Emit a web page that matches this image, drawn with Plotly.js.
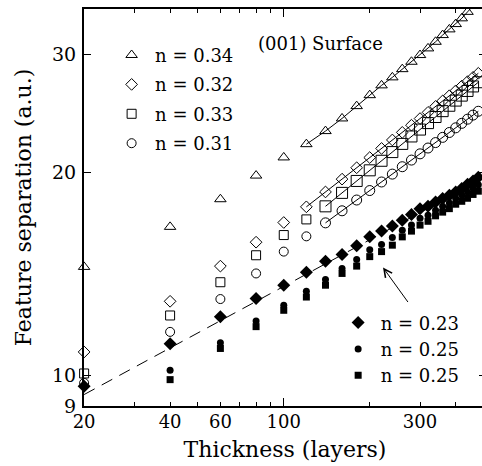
<!DOCTYPE html>
<html>
<head>
<meta charset="utf-8">
<script src="https://cdn.plot.ly/plotly-3.0.1.min.js"></script>
<style>
  html, body { margin: 0; padding: 0; overflow: hidden; background: #fff; }
  #chart { width: 490px; height: 466px; }
</style>
</head>
<body>
<div id="chart"></div>
<script>
// ---- data ----
const xSparse5 = [20, 40, 60, 80, 100];
const xSparse6 = [20, 40, 60, 80, 100, 120];

const triSparseY = [14.49, 16.62, 18.27, 19.81, 21.08];
const diaSparseY = [10.83, 12.88, 14.53, 15.77, 16.87];
const sqSparseY  = [10.06, 12.27, 13.75, 15.08, 16.16, 17.05];
const cirSparseY = [9.74, 11.60, 12.98, 14.17, 15.27, 16.09];

const triLineX = [120, 140, 160, 180, 200, 220, 240, 260, 280, 300, 320, 340, 360, 380, 400, 420, 440, 460];
const triLineY = [22.06, 23.07, 24.09, 25.13, 26.09, 26.98, 27.73, 28.52, 29.25, 29.93, 30.62, 31.32, 32.05, 32.68, 33.28, 33.94, 34.70, 35.40];

const diaLineX = [120, 140, 160, 180, 200, 220, 240, 260, 280, 300, 320, 340, 360, 380, 400, 420, 440, 460, 480];
const diaLineY = [17.80, 18.73, 19.57, 20.35, 21.07, 21.74, 22.38, 22.97, 23.54, 24.08, 24.60, 25.10, 25.58, 26.04, 26.48, 26.91, 27.33, 27.73, 28.12];

const sqLineX = [140, 160, 180, 200, 220, 240, 260, 280, 300, 320, 340, 360, 380, 400, 420, 440, 460, 480];
const sqLineY = [17.83, 18.67, 19.45, 20.17, 20.84, 21.47, 22.08, 22.65, 23.19, 23.71, 24.21, 24.70, 25.16, 25.61, 26.05, 26.47, 26.88, 27.27];

const cirLineX = [140, 160, 180, 200, 220, 240, 260, 280, 300, 320, 340, 360, 380, 400, 420, 440, 460, 480];
const cirLineY = [16.85, 17.56, 18.22, 18.82, 19.38, 19.91, 20.42, 20.89, 21.34, 21.77, 22.18, 22.58, 22.96, 23.33, 23.69, 24.03, 24.37, 24.69];

const fdX = [20, 40, 60, 80, 100, 120, 140, 160, 180, 200, 220, 240, 260, 280, 300, 320, 340, 360, 380, 400, 420, 440, 460, 480];
const fdY = [9.63, 11.14, 12.22, 13.00, 13.61, 14.23, 14.77, 15.12, 15.58, 16.06, 16.39, 16.67, 17.00, 17.34, 17.69, 17.84, 18.10, 18.31, 18.52, 18.73, 18.95, 19.23, 19.45, 19.70];

const fcX = [40, 60, 80, 100, 120, 140, 160, 180, 200, 220, 240, 260, 280, 300, 320, 340, 360, 380, 400, 420, 440, 460, 480];
const fcY = [10.17, 11.18, 12.04, 12.71, 13.33, 13.88, 14.41, 14.86, 15.37, 15.64, 16.03, 16.43, 16.72, 17.11, 17.30, 17.60, 17.84, 18.03, 18.31, 18.54, 18.73, 18.97, 19.19];

const fsX = [40, 60, 80, 100, 120, 140, 160, 180, 200, 220, 240, 260, 280, 300, 320, 340, 360, 380, 400, 420, 440, 460, 480];
const fsY = [9.85, 10.96, 11.81, 12.49, 13.07, 13.61, 14.17, 14.53, 15.01, 15.27, 15.61, 16.06, 16.38, 16.72, 16.94, 17.26, 17.48, 17.69, 17.96, 18.14, 18.33, 18.57, 18.78];

const fitX = [20, 500];
const fitY = [9.36, 19.63];

const xTickVals = [20, 30, 40, 50, 60, 70, 80, 90, 100, 200, 300, 400, 500];
const xTickText = ['20', '', '40', '', '60', '', '', '', '100', '', '300', '', ''];
const yTickVals = [9, 10, 20, 30];
const yTickText = ['9', '10', '20', '30'];

const legendNames = ['n = 0.34', 'n = 0.32', 'n = 0.33', 'n = 0.31', 'n = 0.23', 'n = 0.25', 'n = 0.25'];

// ---- styling ----
const FONT = 'DejaVu Serif';
const K = '#000';

function openMarker(sym, size) {
  return { symbol: sym, size: size, color: K, line: { color: K, width: 1 } };
}

const traces = [
  // dashed fit line
  { x: fitX, y: fitY, mode: 'lines', line: { color: K, width: 1, dash: '12px,8px' }, showlegend: false, hoverinfo: 'skip' },
  // lines with dense markers (no legend)
  { x: triLineX, y: triLineY, mode: 'lines+markers', line: { color: K, width: 1 }, marker: openMarker('triangle-up-open', 10), showlegend: false },
  { x: diaLineX, y: diaLineY, mode: 'lines+markers', line: { color: K, width: 1 }, marker: openMarker('diamond-open', 9), showlegend: false },
  { x: sqLineX, y: sqLineY, mode: 'lines+markers', line: { color: K, width: 1 }, marker: openMarker('square-open', 11), showlegend: false },
  { x: cirLineX, y: cirLineY, mode: 'lines+markers', line: { color: K, width: 1 }, marker: openMarker('circle-open', 10), showlegend: false },
  // sparse open markers (legend 1)
  { x: xSparse5, y: triSparseY, mode: 'markers', name: legendNames[0], legendgroup: 'a', cliponaxis: false, marker: openMarker('triangle-up-open', 10) },
  { x: xSparse5, y: diaSparseY, mode: 'markers', name: legendNames[1], legendgroup: 'b', cliponaxis: false, marker: openMarker('diamond-open', 9) },
  { x: xSparse6, y: sqSparseY, mode: 'markers', name: legendNames[2], legendgroup: 'c', cliponaxis: false, marker: openMarker('square-open', 9) },
  { x: xSparse6, y: cirSparseY, mode: 'markers', name: legendNames[3], legendgroup: 'd', cliponaxis: false, marker: openMarker('circle-open', 9) },
  // filled series (legend 2)
  { x: fdX, y: fdY, mode: 'markers', name: legendNames[4], legend: 'legend2', legendgroup: 'e', cliponaxis: false, marker: { symbol: 'diamond', size: 10, color: K } },
  { x: fcX, y: fcY, mode: 'markers', name: legendNames[5], legend: 'legend2', legendgroup: 'f', marker: { symbol: 'circle', size: 7, color: K } },
  { x: fsX, y: fsY, mode: 'markers', name: legendNames[6], legend: 'legend2', legendgroup: 'g', marker: { symbol: 'square', size: 7, color: K } }
];

const xRange = [1.3006, 2.7081];
const yRange = [Math.log10(9), 1.5446];

const layout = {
  width: 490, height: 466,
  margin: { l: 84, r: 4, t: 9, b: 60 },
  paper_bgcolor: '#fff', plot_bgcolor: '#fff',
  font: { family: FONT, color: K, size: 18 },
  xaxis: {
    type: 'log', range: xRange,
    tickmode: 'array', tickvals: xTickVals, ticktext: xTickText,
    ticks: 'inside', ticklen: 4, tickwidth: 1, tickcolor: K,
    showline: true, linewidth: 2, linecolor: K, mirror: 'ticks',
    showgrid: false, zeroline: false, ticklabelstandoff: -2,
    tickfont: { family: FONT, size: 18, color: K },
    title: { text: 'Thickness (layers)', font: { family: FONT, size: 22, color: K }, standoff: 11 }
  },
  xaxis2: {
    type: 'log', range: xRange, overlaying: 'x', anchor: 'y',
    tickmode: 'array', tickvals: [100], ticktext: [''],
    ticks: 'inside', ticklen: 8, tickwidth: 1, tickcolor: K,
    showline: true, linewidth: 2, linecolor: K, mirror: 'ticks',
    showgrid: false, zeroline: false, showticklabels: false
  },
  yaxis: {
    type: 'log', range: yRange,
    tickmode: 'array', tickvals: yTickVals, ticktext: yTickText,
    ticks: 'inside', ticklen: 7, tickwidth: 1, tickcolor: K,
    showline: true, linewidth: 2, linecolor: K, mirror: 'ticks',
    showgrid: false, zeroline: false, ticklabelstandoff: 2,
    tickfont: { family: FONT, size: 19, color: K },
    title: { text: 'Feature separation (a.u.)', font: { family: FONT, size: 22, color: K }, standoff: 14 }
  },
  legend: {
    x: 0.060, y: 0.93, xanchor: 'left', yanchor: 'top',
    bgcolor: 'rgba(0,0,0,0)', borderwidth: 0,
    font: { family: FONT, size: 18, color: K },
    traceorder: 'grouped', tracegroupgap: 3, itemwidth: 37
  },
  legend2: {
    x: 0.626, y: 0.256, xanchor: 'left', yanchor: 'top',
    bgcolor: 'rgba(0,0,0,0)', borderwidth: 0,
    font: { family: FONT, size: 18, color: K },
    traceorder: 'grouped', tracegroupgap: 0, itemwidth: 35
  },
  annotations: [
    { xref: 'paper', yref: 'paper', x: 0.589, y: 0.9136, xanchor: 'center', yanchor: 'middle',
      text: '(001) Surface', showarrow: false, font: { family: FONT, size: 18, color: K } },
    { xref: 'x', yref: 'y', x: Math.log10(222.6), y: Math.log10(14.46), text: '',
      showarrow: true, arrowhead: 5, arrowsize: 1.6, arrowwidth: 1, arrowcolor: K, ax: 26, ay: 36 }
  ],
  showlegend: true
};

// invisible trace so xaxis2 is drawn
traces.push({ x: [100], y: [20], xaxis: 'x2', yaxis: 'y', mode: 'markers', marker: { opacity: 0 }, showlegend: false, hoverinfo: 'skip' });

Plotly.newPlot('chart', traces, layout, { staticPlot: true, displayModeBar: false });
</script>
</body>
</html>
